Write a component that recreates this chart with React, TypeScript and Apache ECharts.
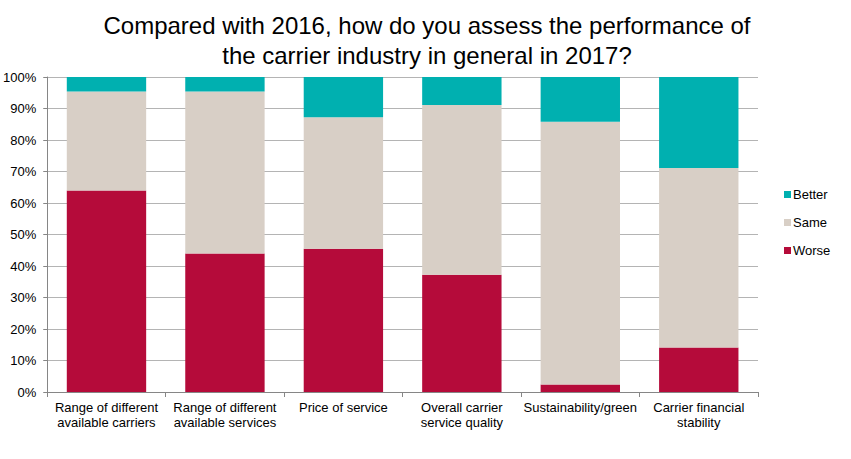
import React, { useEffect, useRef } from "react";
import * as echarts from "echarts";

const categories = [
  "Range of different\navailable carriers",
  "Range of different\navailable services",
  "Price of service",
  "Overall carrier\nservice quality",
  "Sustainability/green",
  "Carrier financial\nstability",
];
const worse = [64, 44, 45.5, 37.2, 2.4, 14.1];
const same = [31.4, 51.4, 41.7, 53.9, 83.4, 57.0];
const better = [4.6, 4.6, 12.8, 8.9, 14.2, 28.9];
const yTicks = [0, 10, 20, 30, 40, 50, 60, 70, 80, 90, 100];

export default function App() {
  const ref = useRef<HTMLDivElement>(null);
  useEffect(() => {
    if (!ref.current) return;
    const chart = echarts.init(ref.current, undefined, { renderer: "svg" });
    const font = "Arial, 'Liberation Sans', sans-serif";
    chart.setOption({
      animation: false,
      title: {
        text: "Compared with 2016, how do you assess the performance of\nthe carrier industry in general in 2017?",
        left: 422,
        textAlign: "center",
        top: 5,
        textStyle: { fontFamily: font, fontSize: 24, fontWeight: "normal", color: "#000", lineHeight: 30 },
      },
      legend: {
        orient: "vertical",
        left: 779,
        top: 183,
        itemWidth: 7,
        itemHeight: 7,
        itemGap: 15,
        icon: "rect",
        data: ["Better", "Same", "Worse"],
        textStyle: { fontFamily: font, fontSize: 13, color: "#000", padding: [0, 0, 0, -3] },
      },
      grid: { left: 45, right: 93, top: 77, bottom: 67 },
      xAxis: {
        type: "category",
        data: categories,
        axisLine: { lineStyle: { color: "#868686" } },
        axisTick: { show: true, alignWithLabel: false, length: 5, lineStyle: { color: "#868686" } },
        axisLabel: { fontFamily: font, fontSize: 13, color: "#000", lineHeight: 15, margin: 8, interval: 0 },
      },
      yAxis: {
        type: "value",
        min: 0,
        max: 100,
        interval: 10,
        axisLine: { show: true, lineStyle: { color: "#868686" } },
        axisTick: { show: true, length: 4, lineStyle: { color: "#868686" } },
        splitLine: { lineStyle: { color: "#b4b4b4", width: 1 } },
        axisLabel: {
          fontFamily: font,
          fontSize: 13,
          color: "#000",
          margin: 11,
          formatter: (v: number) => (yTicks.includes(v) ? v + "%" : ""),
        },
      },
      series: [
        { name: "Worse", type: "bar", stack: "a", data: worse, barCategoryGap: "33%", itemStyle: { color: "#B50B3A" } },
        { name: "Same", type: "bar", stack: "a", data: same, itemStyle: { color: "#D8CFC6" } },
        { name: "Better", type: "bar", stack: "a", data: better, itemStyle: { color: "#00B0B0" } },
      ],
    });
    return () => chart.dispose();
  }, []);
  return <div ref={ref} style={{ width: 851, height: 459, position: "absolute", left: 0, top: 0 }} />;
}
